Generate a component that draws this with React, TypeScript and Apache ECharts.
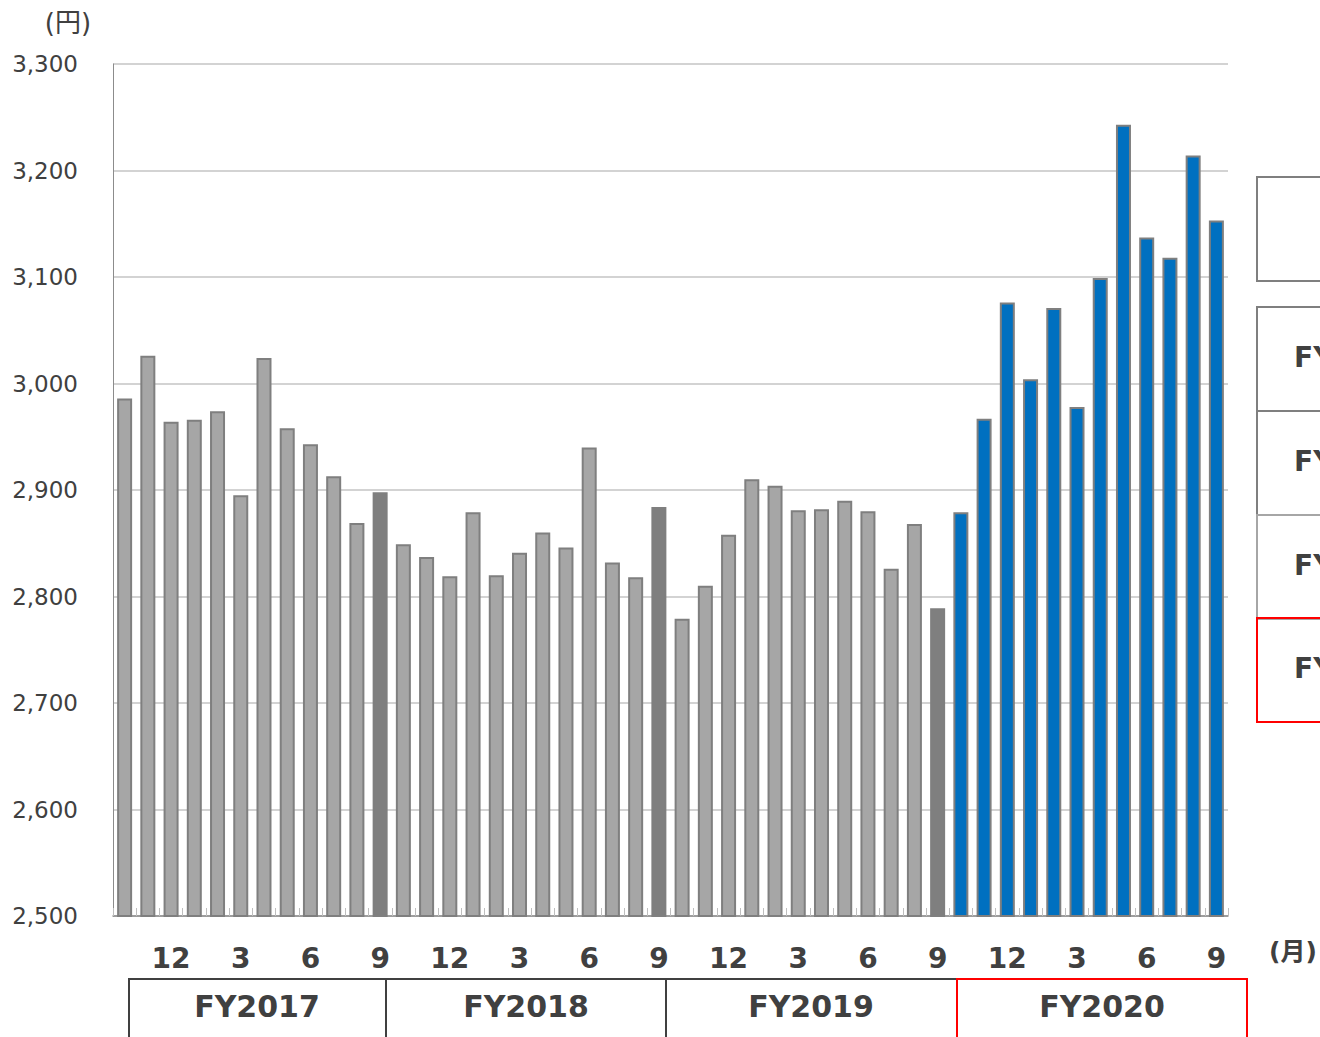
import React, { useEffect, useRef } from "react";
import * as echarts from "echarts";

const fiscalYears = ["FY2017", "FY2018", "FY2019", "FY2020"];
const months = ["10", "11", "12", "1", "2", "3", "4", "5", "6", "7", "8", "9"];
const shownMonths = ["12", "3", "6", "9"];
const fy2017 = [2986, 3026, 2964, 2966, 2974, 2895, 3024, 2958, 2943, 2913, 2869, 2898];
const fy2018 = [2849, 2837, 2819, 2879, 2820, 2841, 2860, 2846, 2940, 2832, 2818, 2884];
const fy2019 = [2779, 2810, 2858, 2910, 2904, 2881, 2882, 2890, 2880, 2826, 2868, 2789];
const fy2020 = [2879, 2967, 3076, 3004, 3071, 2978, 3099, 3243, 3137, 3118, 3214, 3153];
const yTicks = { min: 2500, max: 3300, interval: 100 };
const tableRows = ["FY2017", "FY2018", "FY2019", "FY2020"];

const FONT = "'DejaVu Sans', 'Noto Sans CJK JP', sans-serif";
const TXT = "#404040";

export default function App() {
  const ref = useRef<HTMLDivElement>(null);
  useEffect(() => {
    if (!ref.current) return;
    const chart = echarts.init(ref.current, null, { renderer: "svg" });
    const yearValues = [fy2017, fy2018, fy2019, fy2020];
    const categories: string[] = [];
    const data: any[] = [];
    yearValues.forEach((vals, yi) => {
      vals.forEach((v, mi) => {
        categories.push(fiscalYears[yi] + "-" + months[mi]);
        const isCurrent = yi === fiscalYears.length - 1;
        const isSept = months[mi] === "9";
        const color = isCurrent ? "#0070c0" : isSept ? "#7f7f7f" : "#a6a6a6";
        data.push({ value: v, itemStyle: { color } });
      });
    });

    const graphics: any[] = [];
    graphics.push({
      type: "polyline",
      shape: { points: [[129, 1040], [129, 979], [957, 979]] },
      style: { stroke: "#404040", lineWidth: 2, fill: null },
    });
    [386, 666].forEach((x) =>
      graphics.push({
        type: "line",
        shape: { x1: x, y1: 979, x2: x, y2: 1040 },
        style: { stroke: "#404040", lineWidth: 2 },
      })
    );
    graphics.push({
      type: "polyline",
      shape: { points: [[957, 1040], [957, 979], [1247, 979], [1247, 1040]] },
      style: { stroke: "#ff0000", lineWidth: 2, fill: null },
    });
    const fyCenters = [257, 526, 811, 1102];
    fiscalYears.forEach((fy, i) =>
      graphics.push({
        type: "text",
        x: fyCenters[i],
        y: 1006,
        style: {
          text: fy,
          fill: TXT,
          font: `bold 30px ${FONT}`,
          align: "center",
          verticalAlign: "middle",
        },
      })
    );
    graphics.push({
      type: "text",
      x: 68,
      y: 23,
      style: { text: "(円)", fill: TXT, font: `26px ${FONT}`, align: "center", verticalAlign: "middle" },
    });
    graphics.push({
      type: "text",
      x: 1293,
      y: 951,
      style: { text: "(月)", fill: TXT, font: `bold 25px ${FONT}`, align: "center", verticalAlign: "middle" },
    });
    graphics.push({
      type: "rect",
      shape: { x: 1257, y: 177, width: 200, height: 104 },
      style: { stroke: "#7f7f7f", lineWidth: 2, fill: null },
    });
    const rowTops = [307, 411, 515, 618];
    const rowStroke = ["#7f7f7f", "#7f7f7f", "#a6a6a6", "#ff0000"];
    tableRows.forEach((r, i) => {
      graphics.push({
        type: "rect",
        z: i === 3 ? 10 : 5,
        shape: { x: 1257, y: rowTops[i], width: 200, height: 104 },
        style: { stroke: rowStroke[i], lineWidth: 2, fill: null },
      });
      graphics.push({
        type: "text",
        x: 1294,
        y: rowTops[i] + 50,
        style: { text: r, fill: TXT, font: `bold 28px ${FONT}`, align: "left", verticalAlign: "middle" },
      });
    });

    chart.setOption({
      animation: false,
      backgroundColor: "#ffffff",
      grid: { left: 113, right: 92, top: 64, bottom: 121, containLabel: false },
      xAxis: {
        type: "category",
        data: categories,
        axisLine: { show: true, lineStyle: { color: "#8c8c8c", width: 1.5 } },
        axisTick: {
          show: true,
          inside: true,
          interval: 0,
          length: 8,
          lineStyle: { color: "#bfbfbf", width: 1 },
        },
        axisLabel: {
          interval: (index: number) => shownMonths.includes(months[index % 12]),
          formatter: (v: string) => v.split("-")[1],
          color: TXT,
          fontFamily: FONT,
          fontWeight: "bold",
          fontSize: 28,
          margin: 28,
        },
      },
      yAxis: {
        type: "value",
        min: yTicks.min,
        max: yTicks.max,
        interval: yTicks.interval,
        axisLine: { show: true, lineStyle: { color: "#8c8c8c", width: 1 } },
        axisTick: { show: false },
        splitLine: { show: true, lineStyle: { color: "#c4c4c4", width: 1.5 } },
        axisLabel: {
          color: TXT,
          fontFamily: FONT,
          fontSize: 23,
          margin: 35,
          formatter: (v: number) => v.toLocaleString("en-US"),
        },
      },
      series: [
        {
          type: "bar",
          data,
          barWidth: 15,
          itemStyle: { borderColor: "#7f7f7f", borderWidth: 2 },
        },
      ],
      graphic: graphics,
    });
    return () => chart.dispose();
  }, []);
  return (
    <div
      ref={ref}
      style={{ position: "absolute", left: 0, top: 0, width: 1320, height: 1037, overflow: "hidden" }}
    />
  );
}
